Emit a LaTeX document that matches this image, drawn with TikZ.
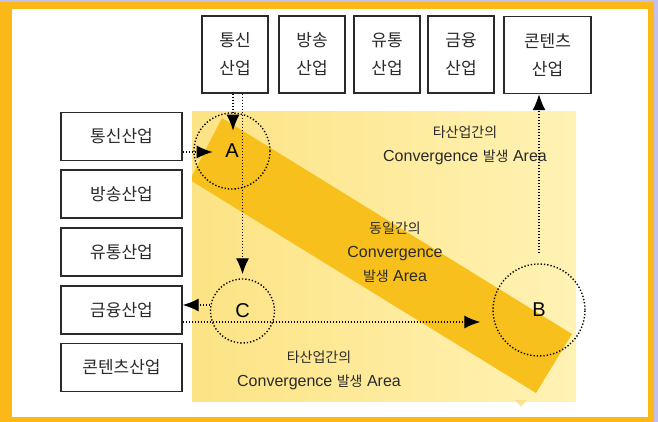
\documentclass[tikz,border=0pt]{standalone}
\usepackage{fontspec}
\setmainfont{Liberation Sans}
\newfontfamily\kr{Noto Sans CJK KR}
\usetikzlibrary{arrows.meta}
\definecolor{frameor}{HTML}{FBB817}
\definecolor{lav}{HTML}{C4C0EE}
\definecolor{ink}{HTML}{2A2A2A}
\definecolor{bandc}{HTML}{F8C01C}
\definecolor{ylL}{HTML}{FCE384}
\definecolor{ylR}{HTML}{FFF2B4}
\newcommand\ko[1]{{\kr\fontsize{14}{24}\selectfont #1}}
\tikzset{
  box/.style={draw=ink, line width=1.4pt, fill=white, inner sep=0pt, text=ink,
    font=\kr\fontsize{17}{28}\selectfont, align=center},
  topbox/.style={box, minimum width=66pt, minimum height=77pt},
  leftbox/.style={box, minimum width=121pt, minimum height=48pt},
  zone/.style={circle, draw=black, line width=1.4pt, dash pattern=on 1.3pt off 2pt,
    inner sep=0pt, font=\fontsize{20}{20}\selectfont},
  dotl/.style={draw=black, line width=1.3pt, dash pattern=on 1.3pt off 1.7pt},
  arr/.style={dotl, -{Latex[length=16pt,width=13pt]}},
  lbl/.style={text=ink, align=center, font=\fontsize{16}{24}\selectfont, inner sep=0pt}
}
\begin{document}
\begin{tikzpicture}[x=1pt,y=-1pt]
\useasboundingbox (0,0) rectangle (658,422);
% frame
\fill[lav] (0,0) rectangle (658,422);
\fill[frameor] (0,2) rectangle (654,422);
\fill[white] (12,9) rectangle (648,417);
% yellow area
\shade[left color=ylL, right color=ylR] (192,112) rectangle (576,401);
\begin{scope}
  \clip (192,112) rectangle (576,401);
  \fill[bandc] (222,118) -- (572,334) -- (536,393) -- (190,180) -- cycle;
\end{scope}
\fill[bandc!60, opacity=0.7] (515,400) -- (527,400) -- (521,407) -- cycle;

% top boxes
\node[topbox] (t1) at (235,54.5) {통신\\산업};
\node[topbox] (t2) at (312,54.5) {방송\\산업};
\node[topbox] (t3) at (387,54.5) {유통\\산업};
\node[topbox] (t4) at (461,54.5) {금융\\산업};
\node[topbox, minimum width=87pt] (t5) at (547.5,55) {콘텐츠\\산업};
% left boxes
\node[leftbox] (l1) at (121.5,136.5) {통신산업};
\node[leftbox] (l2) at (121.5,194) {방송산업};
\node[leftbox] (l3) at (121.5,252) {유통산업};
\node[leftbox] (l4) at (121.5,310) {금융산업};
\node[leftbox] (l5) at (121.5,367.5) {콘텐츠산업};

% circles
\node[zone, minimum size=76pt] (A) at (232,151) {A};
\node[zone, minimum size=64pt] (C) at (242.5,311) {C};
\node[zone, minimum size=92pt] (B) at (539,310) {B};

% texts
\node[lbl] (txt1) at (465,145) {\ko{타산업간의}\\Convergence \ko{발생} Area};
\node[lbl] (txt2) at (395,252) {\ko{동일간의}\\Convergence\\\ko{발생} Area};
\node[lbl] (txt3) at (319,370) {\ko{타산업간의}\\Convergence \ko{발생} Area};

% connectors
\draw[arr] ([xshift=-2pt]t1.south) -- ++(0,37);
\draw[arr, shorten >=4pt] (t1.south -| C.north) -- (C.north);
\draw[arr] ([yshift=-15.5pt]l1.east) -- ++(30,0);
\draw[arr] ([yshift=6pt]C.west) -- ([yshift=6pt]C.west -| l4.east);
\draw[arr, shorten >=12pt] ([yshift=-12pt]l4.east) -- ([yshift=-12pt]l4.east -| B.west);
\draw[arr, shorten <=10pt] (B.north) -- (B.north |- t5.south);
\end{tikzpicture}
\end{document}
